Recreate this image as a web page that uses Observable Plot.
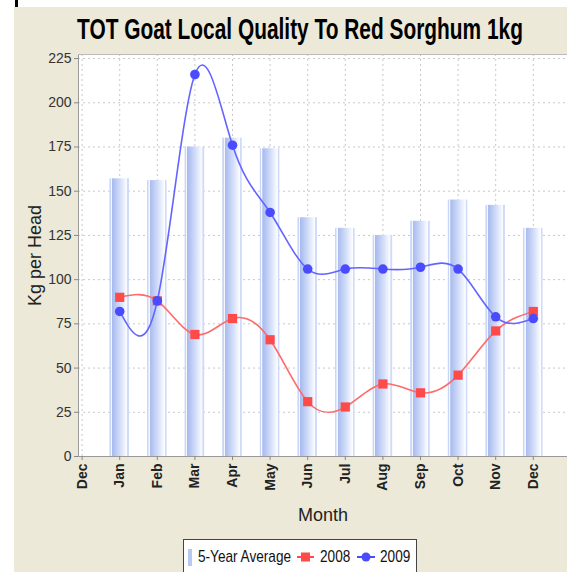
<!DOCTYPE html>
<html>
<head>
<meta charset="utf-8">
<script src="https://cdn.jsdelivr.net/npm/d3@7"></script>
<script src="https://cdn.jsdelivr.net/npm/@observablehq/plot@0.6"></script>
<style>
  html, body { margin: 0; padding: 0; background: #ffffff; width: 567px; height: 572px; overflow: hidden; }
  #wrap { position: relative; width: 567px; height: 572px; }
  #panel { position: absolute; left: 14px; top: 7px; right: 0; bottom: 0; background: #ECE9D8; }
  #mark { position: absolute; left: 15px; top: 0; width: 3px; height: 7px; background: #000; }
  #title { position: absolute; left: 300px; top: 13px; transform: translateX(-50%) scaleX(0.72);
    font-family: "Liberation Sans", Arial, sans-serif; font-weight: bold; font-size: 29px; color: #000; white-space: nowrap; }
  #chart { position: absolute; left: 0; top: 0; }
  #legend { position: absolute; left: 183px; top: 539px; width: 232px; height: 40px; background: #fff; border: 1px solid #444;
    font-family: "Liberation Sans", Arial, sans-serif; font-size: 17px; color: #111; }
  #legend .el { position: absolute; white-space: nowrap; }
  #legend .txt { top: 7px; transform: scaleX(0.8); transform-origin: 0 50%; line-height: 20px; }
</style>
</head>
<body>
<div id="wrap">
  <div id="panel"></div>
  <div id="mark"></div>
  <div id="chart"></div>
  <div id="title">TOT Goat Local Quality To Red Sorghum 1kg</div>
  <div id="legend"></div>
</div>
<script>
// ---- data ----
const tickLabels = ["Dec", "Jan", "Feb", "Mar", "Apr", "May", "Jun", "Jul", "Aug", "Sep", "Oct", "Nov", "Dec"];
const months = ["Jan", "Feb", "Mar", "Apr", "May", "Jun", "Jul", "Aug", "Sep", "Oct", "Nov", "Dec"];
const avg5yr = [157, 156, 175, 180, 174, 135, 129, 125, 133, 145, 142, 129];
const y2008 = [90, 88, 69, 78, 66, 31, 28, 41, 36, 46, 71, 82];
const y2009 = [82, 88, 216, 176, 138, 106, 106, 106, 107, 106, 79, 78];
const yTicks = [0, 25, 50, 75, 100, 125, 150, 175, 200, 225];
const seriesNames = ["5-Year Average", "2008", "2009"];

const idx = months.map((m, i) => i + 1);
const bars = idx.map((i, k) => ({ i, v: avg5yr[k] }));
const s2008 = idx.map((i, k) => ({ i, v: y2008[k] }));
const s2009 = idx.map((i, k) => ({ i, v: y2009[k] }));

const font = '"Liberation Sans", Arial, sans-serif';
const gridStyle = { stroke: "#c8c8c8", strokeOpacity: 1, strokeDasharray: "2,3" };
const xDomain = [-0.096, 12.91];

const svg = Plot.plot({
  width: 567,
  height: 530,
  marginLeft: 78,
  marginRight: 0,
  marginTop: 54,
  marginBottom: 74,
  style: { background: "transparent", fontFamily: font, overflow: "visible" },
  x: { type: "linear", domain: xDomain },
  y: { domain: [0, 227.3] },
  marks: [
    Plot.rect([0], { x1: xDomain[0], x2: xDomain[1], y1: 0, y2: 227.3, fill: "#ffffff" }),
    Plot.gridY(yTicks, gridStyle),
    Plot.gridX(d3.range(tickLabels.length), gridStyle),
    Plot.rectY(bars, { x1: d => d.i - 0.26, x2: d => d.i + 0.26, y1: 0, y2: "v", fill: "url(#barGrad)" }),
    Plot.line(s2008, { x: "i", y: "v", curve: "natural", stroke: "#ff6a6a", strokeWidth: 1.6 }),
    Plot.line(s2009, { x: "i", y: "v", curve: "natural", stroke: "#6464ff", strokeWidth: 1.6 }),
    Plot.dot(s2008, { x: "i", y: "v", symbol: "square", r: 5.2, fill: "#ff4a4a" }),
    Plot.dot(s2009, { x: "i", y: "v", symbol: "circle", r: 4.8, fill: "#4a4aff" }),
    Plot.ruleX([xDomain[0]], { y1: 0, y2: 227.3, stroke: "#999" }),
    Plot.ruleY([0], { stroke: "#999" }),
    Plot.ruleY([227.3], { stroke: "#bbb" }),
    Plot.axisY({ ticks: yTicks, tickSize: 4, tickPadding: 3, fontSize: 14, stroke: "#888", color: "#333",
      label: "Kg per Head", labelAnchor: "center", labelArrow: "none", labelOffset: 50 }),
    Plot.axisX({ ticks: d3.range(tickLabels.length), tickFormat: i => tickLabels[i], tickRotate: -90,
      tickSize: 4, tickPadding: 3, fontSize: 14, fontWeight: "bold", stroke: "#888", color: "#222",
      label: "Month", labelAnchor: "center", labelArrow: "none", labelOffset: 64 })
  ]
});

// gradient for bars
const defs = d3.select(svg).insert("defs", ":first-child");
const g = defs.append("linearGradient").attr("id", "barGrad").attr("x1", "0").attr("x2", "1").attr("y1", "0").attr("y2", "0");
[["0%", "#c9d6f7"], ["7%", "#c9d6f7"], ["8%", "#f4f7fe"], ["13%", "#f4f7fe"], ["14%", "#a8baee"], ["55%", "#d2ddf9"],
 ["86%", "#f8faff"], ["88%", "#f8faff"], ["90%", "#ffffff"], ["92%", "#cfdbf8"], ["100%", "#cfdbf8"]]
  .forEach(([o, c]) => g.append("stop").attr("offset", o).attr("stop-color", c));

// axis label sizes
d3.select(svg).selectAll("[aria-label='y-axis label'] text, [aria-label='x-axis label'] text")
  .style("font-size", "18px").style("font-weight", "normal").attr("fill", "#222");

document.getElementById("chart").appendChild(svg);

// legend
const legend = d3.select("#legend");
legend.append("div").attr("class", "el").style("left", "4px").style("top", "9px")
  .style("width", "4px").style("height", "17px").style("background", "#b8c8f4");
legend.append("div").attr("class", "el txt").style("left", "14px").text(seriesNames[0]);

const s2 = legend.append("svg").attr("class", "el").style("left", "113px").style("top", "11px").attr("width", 17).attr("height", 12);
s2.append("line").attr("x1", 0).attr("x2", 17).attr("y1", 6).attr("y2", 6).attr("stroke", "#ff4a4a").attr("stroke-width", 2);
s2.append("rect").attr("x", 4).attr("y", 1.5).attr("width", 9).attr("height", 9).attr("fill", "#ff4a4a");
legend.append("div").attr("class", "el txt").style("left", "136px").text(seriesNames[1]);

const s3 = legend.append("svg").attr("class", "el").style("left", "173px").style("top", "11px").attr("width", 18).attr("height", 12);
s3.append("line").attr("x1", 0).attr("x2", 18).attr("y1", 6).attr("y2", 6).attr("stroke", "#4a4aff").attr("stroke-width", 2);
s3.append("circle").attr("cx", 9).attr("cy", 6).attr("r", 4.5).attr("fill", "#4a4aff");
legend.append("div").attr("class", "el txt").style("left", "196px").text(seriesNames[2]);
</script>
</body>
</html>
